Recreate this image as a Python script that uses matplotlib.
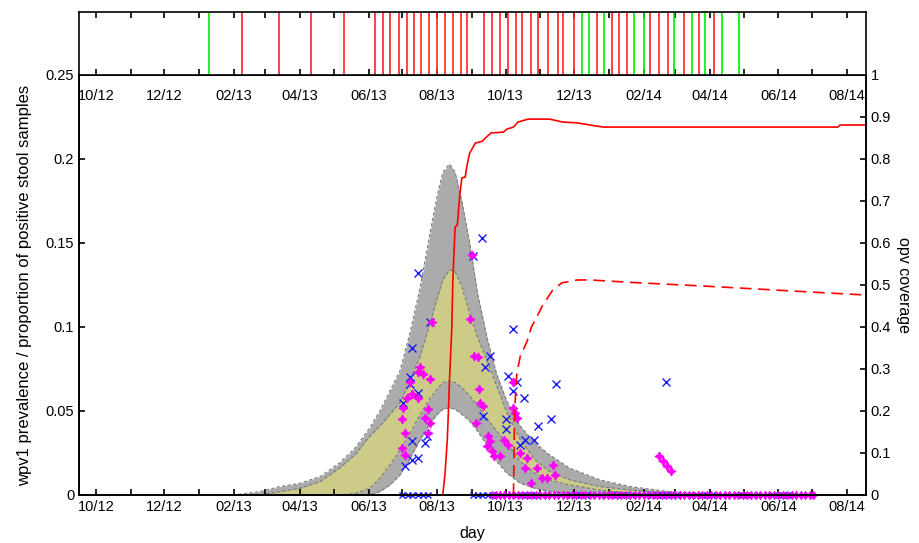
import numpy as np
import matplotlib
matplotlib.use('Agg')
import matplotlib.pyplot as plt
import matplotlib.dates as mdates
from matplotlib.ticker import FuncFormatter, MultipleLocator

plt.rcParams['font.family'] = ['Liberation Sans', 'DejaVu Sans']
plt.rcParams['font.size'] = 10.5

# all x values are days since 2012-10-01
base = mdates.date2num(np.datetime64('2012-10-01'))

# campaign days (top strip)
green_days = [101, 433, 439, 453, 479, 488, 515, 531, 543, 558, 573]
red_days = [130, 163, 192, 221, 249, 256, 262, 270, 277, 283, 290, 297, 304,
            311, 318, 325, 331, 346, 353, 360, 367, 374, 380, 388, 394, 403,
            412, 416, 426, 446, 460, 466, 473, 494, 502, 510, 524, 537, 551]

# model bands
band_days = [122, 146, 164, 182, 200, 217, 231, 244, 253, 262, 271, 280, 289,
             298, 304, 309, 315, 320, 326, 333, 340, 349, 357, 366, 378, 391,
             404, 422, 449, 476, 511, 556]
upper_out = [0.000, 0.002, 0.005, 0.007, 0.011, 0.019, 0.028, 0.040, 0.050,
             0.062, 0.074, 0.097, 0.124, 0.157, 0.178, 0.192, 0.197, 0.192,
             0.175, 0.150, 0.120, 0.092, 0.072, 0.056, 0.041, 0.031, 0.024,
             0.016, 0.009, 0.005, 0.002, 0.000]
upper_in = [0.000, 0.000, 0.002, 0.004, 0.008, 0.016, 0.024, 0.035, 0.041,
            0.048, 0.055, 0.068, 0.083, 0.103, 0.117, 0.128, 0.134, 0.133,
            0.124, 0.108, 0.094, 0.079, 0.065, 0.049, 0.033, 0.021, 0.014,
            0.009, 0.005, 0.003, 0.001, 0.000]
lower_in = [0.000, 0.000, 0.000, 0.000, 0.000, 0.000, 0.001, 0.004, 0.010,
            0.018, 0.027, 0.037, 0.048, 0.058, 0.063, 0.067, 0.068, 0.067,
            0.064, 0.059, 0.053, 0.045, 0.038, 0.031, 0.020, 0.013, 0.009,
            0.006, 0.003, 0.001, 0.000, 0.000]
lower_out = [0.000, 0.000, 0.000, 0.000, 0.000, 0.000, 0.000, 0.000, 0.002,
             0.006, 0.012, 0.022, 0.033, 0.043, 0.048, 0.051, 0.052, 0.051,
             0.048, 0.044, 0.038, 0.029, 0.020, 0.013, 0.007, 0.004, 0.002,
             0.001, 0.000, 0.000, 0.000, 0.000]

# observed proportions (blue x)
obs_days = [287, 282, 298, 344, 336, 372, 351, 347, 367, 375, 410, 372, 381,
            280, 280, 287, 274, 345, 365, 405, 394, 365, 282, 295, 293, 382,
            390, 378, 287, 282, 275, 508]
obs_vals = [0.132, 0.0875, 0.103, 0.153, 0.142, 0.099, 0.083, 0.076, 0.071,
            0.067, 0.066, 0.062, 0.058, 0.070, 0.066, 0.061, 0.055, 0.047,
            0.045, 0.045, 0.041, 0.039, 0.032, 0.035, 0.031, 0.033, 0.033,
            0.030, 0.022, 0.021, 0.017, 0.067]
obs_zero_days = [273, 278, 282, 287, 291, 296,
                 336, 340, 344, 349, 353, 357, 362, 366, 370, 375, 379, 384,
                 388, 392, 397, 401, 406, 410, 414, 419, 423, 428, 432, 437,
                 441, 446, 450, 455, 459, 464, 468, 473, 477, 482, 486, 491,
                 495, 500, 504, 508, 513, 517, 522, 526, 531, 535, 540, 544,
                 549, 553, 558, 562, 567, 571, 576, 580, 585, 589, 594, 598,
                 603, 607, 612, 616, 621, 625, 630, 634, 638]

# simulated samples (magenta)
sim_days = [335, 333, 299, 289, 287, 291, 280, 298, 282, 277, 287, 274, 296,
            293, 298, 273, 275, 296, 273, 275, 337, 340, 341, 342, 345, 339,
            349, 348, 351, 353, 355, 364, 367, 360, 372, 372, 373, 375, 378,
            384, 382, 393, 388, 397, 407, 409, 402, 502, 505, 509, 512]
sim_vals = [0.143, 0.105, 0.103, 0.076, 0.073, 0.072, 0.067, 0.069, 0.060,
            0.058, 0.058, 0.052, 0.051, 0.046, 0.043, 0.045, 0.037, 0.037,
            0.028, 0.024, 0.083, 0.082, 0.063, 0.055, 0.053, 0.043, 0.035,
            0.029, 0.032, 0.026, 0.023, 0.033, 0.030, 0.023, 0.067, 0.052,
            0.049, 0.046, 0.025, 0.022, 0.016, 0.016, 0.007, 0.010, 0.018,
            0.012, 0.010, 0.023, 0.020, 0.017, 0.014]
sim_zero_days = [353, 356, 360, 364, 368, 372, 376, 380, 384, 388, 392, 396,
                 400, 404, 408, 412, 416, 420, 424, 428, 432, 436, 440, 444,
                 448, 452, 456, 460, 464, 468, 472, 476, 480, 484, 488, 492,
                 496, 500, 504, 508, 512, 516, 520, 524, 528, 532, 536, 540,
                 544, 548, 552, 556, 560, 564, 568, 572, 576, 580, 584, 588,
                 592, 596, 600, 604, 608, 612, 616, 620, 624, 628, 632, 636,
                 639]

# opv coverage (right axis)
cov_days = [309, 311, 313, 314, 315, 317, 318, 320, 322, 324, 326, 329, 331,
            333, 338, 344, 347, 352, 363, 366, 372, 376, 385, 404, 416, 429,
            440, 452, 661, 663, 687]
cov_vals = [0, 0.05, 0.13, 0.195, 0.274, 0.393, 0.512, 0.638, 0.643, 0.71,
            0.755, 0.757, 0.79, 0.814, 0.838, 0.842, 0.85, 0.862, 0.864,
            0.871, 0.876, 0.888, 0.895, 0.895, 0.888, 0.886, 0.881, 0.876,
            0.876, 0.881, 0.881]
cov2_days = [372, 373, 375, 378, 384, 388, 393, 398, 407, 415, 429, 440, 485,
             538, 592, 645, 687]
cov2_vals = [0, 0.2, 0.29, 0.33, 0.365, 0.40, 0.425, 0.452, 0.488, 0.505,
             0.512, 0.512, 0.505, 0.498, 0.490, 0.482, 0.476]


def d(days):
    return base + np.asarray(days, dtype=float)


def month_fmt(x, pos):
    dt = mdates.num2date(x)
    return dt.strftime('%m/%y') if dt.month % 2 == 0 else ''


def num_fmt(v, pos):
    return '%g' % round(v, 3)


fig = plt.figure(figsize=(9.19, 5.43), dpi=100)
left, width = 79 / 919, 787 / 919
ax = fig.add_axes([left, 48 / 543, width, 420 / 543])
ax_top = fig.add_axes([left, 468 / 543, width, 63 / 543])
ax_top.set_zorder(5)
xlim = (d(-15), d(686))

# top strip
for g in green_days:
    ax_top.axvline(d(g), color='#00ee00', lw=1.2)
for r in red_days:
    ax_top.axvline(d(r), color='#ff2020', lw=1.2)
ax_top.set_xlim(*xlim)
ax_top.set_ylim(0, 1)
ax_top.set_yticks([])
ax_top.xaxis.set_major_locator(mdates.MonthLocator())
ax_top.xaxis.set_major_formatter(FuncFormatter(month_fmt))
ax_top.tick_params(axis='x', direction='in', top=True, bottom=True,
                   length=4, width=1.2, pad=10)

# main panel
x = d(band_days)
ax.fill_between(x, lower_out, upper_out, color='#ababab', lw=0)
ax.fill_between(x, lower_in, upper_in, color='#cccc88', lw=0)
for curve in (upper_out, upper_in, lower_in, lower_out):
    ax.plot(x, curve, color='#7a7a7a', lw=0.8, ls=(0, (3, 2)))

star4 = (4, 1, 0)
ax.plot(d(obs_days), obs_vals, 'x', color='#1a1aff', ms=6, mew=1.0)
ax.plot(d(obs_zero_days), np.zeros(len(obs_zero_days)), 'x', color='#1a1aff',
        ms=5, mew=1.0, clip_on=False)
ax.plot(d(sim_days), sim_vals, marker=star4, ls='none', color='#ff00ff',
        ms=6.5, mew=0.7)
ax.plot(d(sim_zero_days), np.zeros(len(sim_zero_days)), marker=star4,
        ls='none', color='#ff00ff', ms=6, mew=0.7, clip_on=False)

ax.set_xlim(*xlim)
ax.set_ylim(0, 0.25)
ax.yaxis.set_major_locator(MultipleLocator(0.05))
ax.yaxis.set_major_formatter(FuncFormatter(num_fmt))
ax.xaxis.set_major_locator(mdates.MonthLocator())
ax.xaxis.set_major_formatter(FuncFormatter(month_fmt))
ax.tick_params(direction='in', length=4, width=1.2, top=False, right=False)
ax.set_xlabel('day', fontsize=11.5, labelpad=9)
ax.set_ylabel('wpv1 prevalence / proportion of positive stool samples',
              fontsize=12, labelpad=10)

ax2 = ax.twinx()
ax2.plot(d(cov_days), cov_vals, color='#ff0000', lw=1.2)
ax2.plot(d(cov2_days), cov2_vals, color='#ff0000', lw=1.2, ls=(0, (7, 4)))
ax2.set_ylim(0, 1)
ax2.set_xlim(*xlim)
ax2.yaxis.set_major_locator(MultipleLocator(0.1))
ax2.yaxis.set_major_formatter(FuncFormatter(num_fmt))
ax2.tick_params(direction='in', length=4, width=1.2)
ax2.set_ylabel('opv coverage', rotation=270, fontsize=11.5, labelpad=14)

for a in (ax_top, ax, ax2):
    for s in a.spines.values():
        s.set_linewidth(1.2)

fig.savefig('out.png', dpi=100)
